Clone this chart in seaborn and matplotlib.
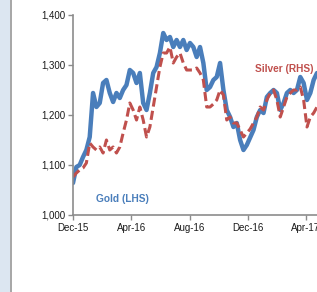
import pandas as pd
import matplotlib
matplotlib.use("Agg")
import matplotlib.pyplot as plt
import matplotlib.dates as mdates
from matplotlib.patches import Rectangle
import seaborn as sns

# weekly readings, both on the left-hand scale (silver rescaled)
start = "2015-12-01"
gold = [1064, 1096, 1100, 1116, 1130, 1156, 1244, 1216, 1224, 1264,
        1270, 1244, 1226, 1244, 1234, 1250, 1260, 1290, 1284, 1264,
        1284, 1224, 1210, 1244, 1284, 1296, 1324, 1364, 1350, 1356,
        1336, 1350, 1336, 1350, 1330, 1344, 1336, 1316, 1336, 1304,
        1250, 1256, 1270, 1276, 1304, 1250, 1210, 1196, 1176, 1184,
        1150, 1130, 1140, 1155, 1170, 1196, 1210, 1204, 1236, 1244,
        1250, 1244, 1210, 1224, 1244, 1250, 1244, 1250, 1276, 1264,
        1230, 1244, 1270, 1284]
silver = [1076, 1084, 1090, 1094, 1104, 1144, 1136, 1130, 1136, 1124,
          1150, 1130, 1136, 1124, 1136, 1164, 1190, 1224, 1210, 1190,
          1216, 1190, 1156, 1176, 1216, 1256, 1296, 1324, 1324, 1336,
          1304, 1316, 1324, 1304, 1290, 1290, 1290, 1294, 1284, 1270,
          1216, 1216, 1222, 1230, 1250, 1240, 1190, 1196, 1184, 1184,
          1170, 1156, 1164, 1172, 1184, 1196, 1216, 1210, 1230, 1244,
          1250, 1230, 1196, 1216, 1236, 1244, 1250, 1250, 1256, 1230,
          1176, 1196, 1204, 1216]
yticks = [1000, 1100, 1200, 1300, 1400]
xticks = ["2015-12-01", "2016-04-01", "2016-08-01", "2016-12-01", "2017-04-01"]

dates = pd.date_range(start, periods=len(gold), freq="7D")
df = pd.DataFrame({"date": dates, "gold": gold, "silver": silver})

sns.set_style("white")
plt.rcParams["font.family"] = ["Liberation Sans", "DejaVu Sans"]

fig = plt.figure(figsize=(3.17, 2.92), dpi=100)
fig.patch.set_facecolor("white")
fig.patches.append(Rectangle((0, 0), 10 / 317, 1, transform=fig.transFigure,
                             facecolor="#dce6f1", edgecolor="none", zorder=0))
fig.patches.append(Rectangle((10 / 317, 0), 2 / 317, 1, transform=fig.transFigure,
                             facecolor="#a8a8a8", edgecolor="none", zorder=0))

ax = fig.add_axes([73 / 317, 77 / 292, 1 - 73 / 317, 200 / 292])
sns.lineplot(data=df, x="date", y="gold", ax=ax, color="#4a7ebb", linewidth=3.2)
sns.lineplot(data=df, x="date", y="silver", ax=ax, color="#c0504d", linewidth=2.2,
             dashes=False)
ax.lines[-1].set_dashes([3.0, 1.4])

ax.set_xlim(pd.Timestamp("2015-12-01"), dates[-1])
ax.set_ylim(1000, 1400)
ax.set_yticks(yticks)
ax.set_yticklabels([f"{v:,}" for v in yticks])
ax.set_xticks(pd.to_datetime(xticks))
ax.xaxis.set_major_formatter(mdates.DateFormatter("%b-%y"))
ax.set_xlabel("")
ax.set_ylabel("")
for s in ["top", "right"]:
    ax.spines[s].set_visible(False)
for s in ["left", "bottom"]:
    ax.spines[s].set_color("#8c8c8c")
    ax.spines[s].set_linewidth(1.2)
ax.tick_params(axis="both", direction="out", length=3.5, width=1.0, color="#8c8c8c",
               labelsize=7, labelcolor="#1a1a1a", pad=2, left=True, bottom=True)

ax.text(0.095, 0.08, "Gold (LHS)", transform=ax.transAxes, color="#4a7ebb",
        fontsize=7.3, fontweight="bold", ha="left", va="center")
ax.text(0.745, 0.73, "Silver (RHS)", transform=ax.transAxes, color="#c0504d",
        fontsize=7.3, fontweight="bold", ha="left", va="center")

# title sits above the crop; only its descenders show
fig.text(238 / 317, 1 + 1.5 / 292, "(US$/oz)", color="#333333", fontsize=8,
         ha="center", va="baseline")

fig.savefig("out.png", dpi=100)
